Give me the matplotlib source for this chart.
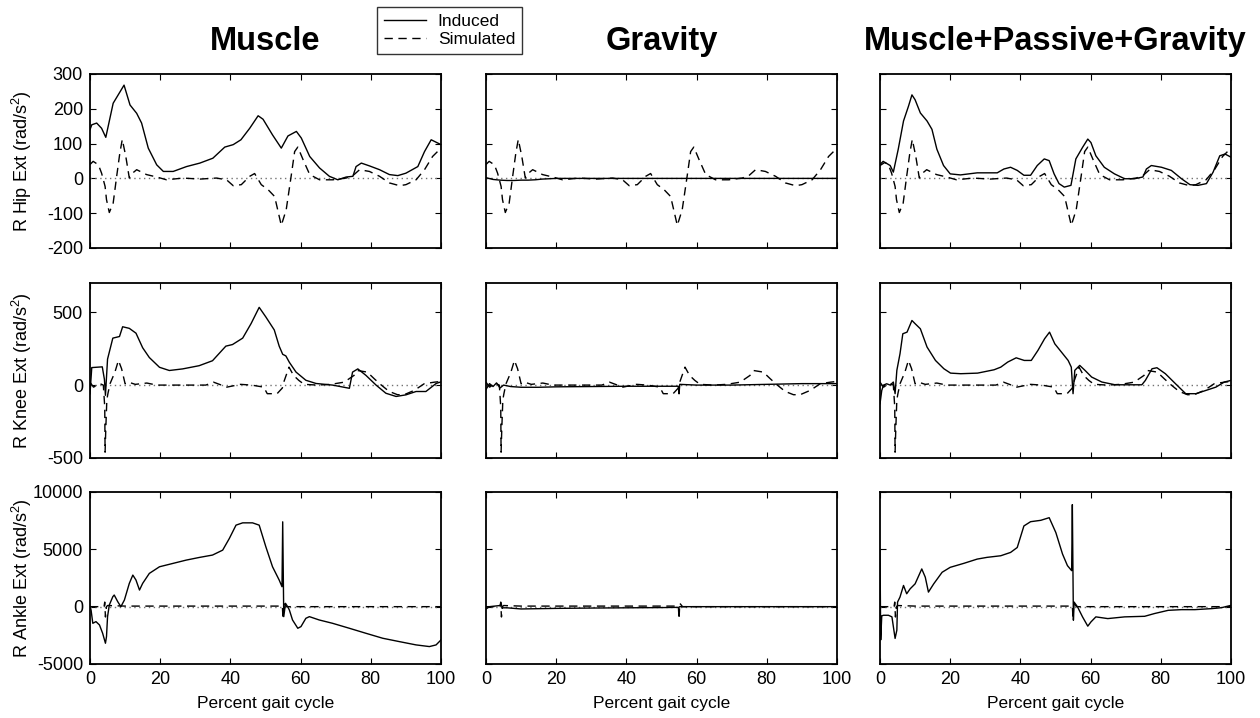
import matplotlib
matplotlib.use('Agg')
import matplotlib.pyplot as plt
from matplotlib.lines import Line2D

plt.rcParams['font.family'] = ['Liberation Sans', 'DejaVu Sans']
plt.rcParams['mathtext.default'] = 'regular'
plt.rcParams['axes.unicode_minus'] = False

col_titles = ['Muscle', 'Gravity', 'Muscle+Passive+Gravity']
row_labels = ['R Hip Ext (rad/s$^2$)', 'R Knee Ext (rad/s$^2$)', 'R Ankle Ext (rad/s$^2$)']
row_ylims = [(-200, 300), (-500, 700), (-5000, 10000)]
row_yticks = [[-200, -100, 0, 100, 200, 300], [-500, 0, 500], [-5000, 0, 5000, 10000]]
xticks = [0, 20, 40, 60, 80, 100]

# ---- hip ----
# simulated (dashed), same curve in every column
hip_sim_x = [0, 0.9, 2.4, 3.3, 4.3, 4.7, 5.5, 6.6, 7.6, 8.5, 9.2, 10.2, 11.2, 12.1, 13.3, 16.1, 19, 21.8, 26.5,
             31.3, 36, 38.9, 40.8, 43.1, 45.5, 46.9, 48.8, 50.7, 52.6, 54.5, 55.9, 57.3, 58.3, 59.2, 60.7, 62.6,
             65.4, 69.2, 73, 74.9, 76.8, 79.6, 82.5, 85.3, 88.2, 90, 92.9, 95.3, 97.6, 100]
hip_sim_y = [40, 49, 39, 15, -23, -61, -98, -71, 6, 73, 112, 63, 1, 15, 25, 11, 4, -4, 1,
             -2, 1, -4, -21, -18, 6, 14, -18, -32, -52, -135, -90, 6, 77, 90, 54, 11,
             -4, -4, 1, 8, 25, 20, 6, -13, -21, -18, -4, 25, 63, 87]
hip_mus_x = [0, 0.5, 1.9, 3.3, 4.5, 6.6, 9.7, 11.4, 13.3, 14.7, 16.6, 19, 20.9, 23.7, 27.5, 31.3, 35, 38.4,
             40.8, 43, 45.5, 47.9, 49.3, 52, 54.5, 56.4, 58.8, 60.2, 62.6, 65.4, 68.2, 70.6, 73, 74.9,
             75.8, 77.3, 79.6, 82.5, 85.3, 87.7, 90, 93.4, 95.3, 97.2, 100]
hip_mus_y = [140, 154, 159, 144, 118, 216, 268, 211, 187, 159, 87, 39, 20, 20, 34, 44, 58, 90,
             97, 111, 144, 180, 170, 125, 87, 122, 135, 116, 63, 30, 6, -4, 4, 6,
             34, 44, 36, 25, 11, 8, 15, 34, 77, 111, 97]
hip_grav_x = [0, 2, 4, 6, 8, 10, 12, 14, 16, 20, 40, 60, 80, 100]
hip_grav_y = [2, -3, -5, -6, -6, -5, -5, -4, -2, 0, 0, 0, 0, 0]
hip_all_x = [0, 1.4, 2.9, 3.8, 5.2, 6.7, 8.1, 9.1, 10, 11.5, 13.4, 14.8, 16.2, 18.1, 20, 22.9, 27.7, 33.4,
             35.3, 37.2, 39.1, 41, 42.9, 44.8, 46.8, 48.2, 49.6, 51, 52.5, 54.4, 55.8, 57.7, 59.2, 60.1,
             61.5, 63.9, 66.8, 69.7, 72.5, 74.9, 75.9, 77.3, 80.2, 83, 85.9, 88.3, 90.6, 93, 94.9, 96.8,
             98.3, 100]
hip_all_y = [37, 46, 37, 18, 84, 165, 207, 240, 226, 188, 165, 141, 84, 37, 13, 10, 16, 16,
             27, 32, 23, 9, 9, 37, 56, 51, 13, -15, -25, -20, 56, 89, 113, 103,
             65, 32, 13, -1, -1, 4, 27, 37, 32, 23, -1, -18, -20, -15, 18, 65,
             70, 61]

# ---- knee ----
knee_sim_x = [0, 1, 2.9, 3.8, 4.2, 4.3, 4.5, 4.8, 5.1, 5.7, 7.1, 8.1, 9, 10, 11, 12.9, 16.2, 19, 33,
              35.2, 39, 42.9, 46, 49.5, 50.5, 53.3, 54.8, 55.2, 56.7, 58, 59.5, 61, 64.8, 68.6, 72.4,
              75.2, 76.2, 79, 81, 82.9, 85.2, 87.6, 89.5, 92.4, 95.2, 98.1, 100]
knee_sim_y = [20, -14, 9, 0, -150, -460, -300, -100, -59, 9, 89, 169, 112, 9, 20, 5, 14, 0, 0,
              20, -14, 5, 0, -14, -59, -59, -20, 20, 123, 66, 32, 5, 0, 5, 20,
              66, 100, 89, 43, 2, -43, -66, -66, -36, 9, 20, 25]
knee_mus_x = [0, 0.5, 3.5, 4.1, 4.4, 5.0, 6.5, 8.4, 9.3, 11.2, 13.1, 15, 16.9, 19.8, 22.6, 26.4, 31.1,
              34.9, 38.7, 40.6, 43.5, 45.9, 48.2, 50.1, 52.5, 53.9, 54.9, 55.8, 56.8, 58.7, 61.5,
              64.4, 69.1, 73.9, 74.8, 76.3, 78.6, 81.5, 84.3, 87.2, 90, 92.9, 95.7, 98.6, 100]
knee_mus_y = [-60, 120, 125, 40, -70, 178, 322, 333, 400, 389, 356, 256, 189, 122, 100, 111, 133,
              167, 267, 278, 322, 422, 533, 467, 378, 267, 211, 200, 156, 89, 33,
              11, 0, -22, 89, 111, 67, 0, -56, -78, -67, -44, -44, 11, 22]
knee_grav_x = [0, 1, 2, 3, 4, 5, 7, 10, 15, 20, 30, 40, 50, 54.8, 55, 55.2, 60, 70, 80, 90, 100]
knee_grav_y = [-30, 10, -10, 15, -20, 0, -10, -15, -15, -12, -10, -8, -8, -8, -60, 5, 0, 0, 5, 10, 10]
knee_all_x = [0, 0.5, 1, 1.9, 2.9, 3.8, 4.3, 4.8, 5.7, 6.5, 7.7, 9.1, 10, 11.5, 13.4, 15.8, 18.2, 20.1,
              23, 27.8, 32.5, 34.4, 36.4, 38.8, 41.1, 43.1, 45, 46.9, 48.3, 49.8, 51.7, 53.6, 54.5,
              55, 55.5, 56.9, 58.4, 60.3, 63.2, 67, 70.8, 74.6, 75.6, 77.5, 78.9, 81.3, 84.2, 87.1,
              90, 92.8, 95.7, 98.1, 100]
knee_all_y = [-128, -37, 0, 9, 0, 21, -59, 101, 215, 352, 363, 443, 421, 386, 261, 169, 112, 82,
              78, 82, 105, 123, 158, 187, 169, 169, 238, 318, 363, 283, 226, 169, 123,
              -59, 101, 135, 101, 55, 21, 2, 2, 2, 32, 112, 119, 78, 9, -59,
              -59, -37, -14, 21, 32]

# ---- ankle ----
ankle_sim_x = [0, 2, 4, 4.2, 4.4, 4.7, 5, 10, 20, 30, 40, 50, 54.8, 55, 55.2, 56, 60, 70, 80, 90, 100]
ankle_sim_y = [0, 0, 0, 400, -900, 0, 100, 50, 50, 50, 50, 50, 50, -1100, 300, 0, 0, 0, 0, 0, 0]
ankle_mus_x = [0, 0.3, 0.8, 1.7, 2.7, 3.6, 4.4, 4.7, 5, 5.5, 6.5, 6.9, 7.9, 8.8, 9.8, 11.2, 12.2, 13.1,
               14.1, 15, 16.9, 19.8, 23.6, 27.4, 31.1, 34.9, 37.8, 39.7, 41.6, 43.5, 46.3, 48.2, 50.1,
               52, 53.9, 54.7, 54.9, 55.2, 55.7, 56.3, 56.8, 57.7, 59.2, 60.1, 61.5, 62.5, 65.3, 69.1,
               73.9, 78.6, 83.4, 88.1, 92.9, 96.7, 98.6, 100]
ankle_mus_y = [0, -290, -1450, -1305, -1595, -2320, -3190, -2610, -870, 145, 870, 1015, 435, 0, 580,
               2030, 2755, 2320, 1450, 2030, 2900, 3480, 3770, 4060, 4290, 4500, 4930, 5950, 7110,
               7310, 7310, 7110, 5220, 3480, 2320, 1740, 7400, -870, 290, 0, -290, -1160, -1885,
               -1740, -1015, -870, -1160, -1450, -1885, -2320, -2755, -3045, -3335, -3480, -3335,
               -2900]
ankle_grav_x = [0, 1, 4, 4.3, 4.6, 6, 10, 20, 30, 40, 50, 55, 55.2, 60, 70, 80, 90, 100]
ankle_grav_y = [-200, 0, 100, 300, -100, -100, -200, -150, -120, -100, -80, -60, 0, 0, 0, 0, 0, 0]
ankle_all_x = [0, 0.2, 0.5, 1, 2.4, 3.4, 4.3, 4.8, 5, 5.7, 6.7, 7.6, 8.6, 10, 11.9, 12.9, 13.8, 15.3,
               17.7, 20, 23.9, 27.7, 30.5, 34.4, 37.2, 39.1, 41, 42.9, 45.8, 48.2, 50.1, 52, 53.4,
               54.6, 54.8, 55.1, 55.3, 56.3, 57.7, 59.2, 60.1, 61.5, 64.9, 69.7, 75.4, 78.2, 82.1,
               85.9, 89.7, 94.5, 97.3, 100]
ankle_all_y = [5000, -2900, -800, -750, -750, -890, -2770, -2050, 400, 840, 1850, 1125, 1560, 1990,
               3290, 2570, 1270, 1990, 3000, 3430, 3780, 4150, 4300, 4440, 4730, 5160, 7040, 7410,
               7530, 7760, 6460, 4590, 3580, 3140, 8900, -1180, 400, -30, -890, -1700, -1330, -890,
               -1040, -890, -840, -600, -320, -260, -260, -170, -90, 115]

sim = [(hip_sim_x, hip_sim_y), (knee_sim_x, knee_sim_y), (ankle_sim_x, ankle_sim_y)]
induced = [
    [(hip_mus_x, hip_mus_y), (hip_grav_x, hip_grav_y), (hip_all_x, hip_all_y)],
    [(knee_mus_x, knee_mus_y), (knee_grav_x, knee_grav_y), (knee_all_x, knee_all_y)],
    [(ankle_mus_x, ankle_mus_y), (ankle_grav_x, ankle_grav_y), (ankle_all_x, ankle_all_y)],
]

fig = plt.figure(figsize=(12.6, 7.18), dpi=100)

# panel edges in pixels
lefts = [90 / 1260, 486 / 1260, 880 / 1260]
width = 351 / 1260
tops = [74, 283, 492]
bots = [248, 458, 664]

for r in range(3):
    for c in range(3):
        ax = fig.add_axes([lefts[c], 1 - bots[r] / 718, width, (bots[r] - tops[r]) / 718])
        ax.axhline(0, color='0.45', lw=1.0, ls=(0, (1, 2.5)))  # zero line
        ax.plot(sim[r][0], sim[r][1], color='black', lw=1.0, dashes=(6, 4))
        ax.plot(induced[r][c][0], induced[r][c][1], color='black', lw=1.0)
        ax.set_xlim(0, 100)
        ax.set_ylim(*row_ylims[r])
        ax.set_xticks(xticks)
        ax.set_yticks(row_yticks[r])
        ax.tick_params(direction='in', top=True, right=True, length=4, width=0.8,
                       labelsize=13, pad=5)
        for s in ax.spines.values():
            s.set_linewidth(1.3)
        if c == 0:
            ax.set_ylabel(row_labels[r], fontsize=13)
            ax.yaxis.set_label_coords(-0.16, 0.5)
        else:
            ax.set_yticklabels([])
        if r == 2:
            ax.set_xlabel('Percent gait cycle', fontsize=12.5, labelpad=6)
        else:
            ax.set_xticklabels([])
        if r == 0:
            cx = lefts[c] + width / 2
            fig.text(cx, 1 - 50 / 718, col_titles[c], ha='center', va='baseline',
                     fontsize=23.5, fontweight='bold')

handles = [Line2D([], [], color='black', lw=1.0),
           Line2D([], [], color='black', lw=1.0, dashes=(6, 4))]
leg = fig.legend(handles, ['Induced', 'Simulated'], loc='upper left',
                 bbox_to_anchor=(377 / 1260, 1 - 7 / 718), borderaxespad=0,
                 fontsize=12.5, frameon=True, fancybox=False, edgecolor='black',
                 handlelength=2.4, handletextpad=0.7, labelspacing=0.15, borderpad=0.4)
leg.get_frame().set_linewidth(1.0)

fig.savefig('out.png', dpi=100)
